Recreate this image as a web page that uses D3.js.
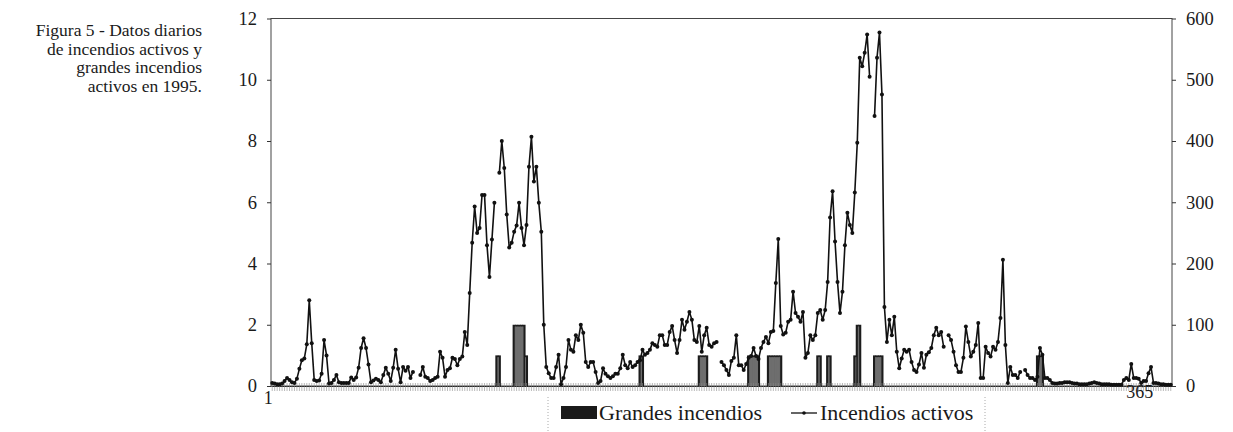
<!DOCTYPE html>
<html>
<head>
<meta charset="utf-8">
<script src="https://cdn.jsdelivr.net/npm/d3@7"></script>
<style>
  html, body { margin: 0; padding: 0; background: #fff; }
  svg { display: block; }
  text { font-family: "Liberation Serif", "Times New Roman", "DejaVu Serif", serif; fill: #1a1a1a; }
</style>
</head>
<body>
<svg id="chart" width="1233" height="432"></svg>
<script>
// ---- DATA ----
const titleLines = ["Figura 5 - Datos diarios", "de incendios activos y", "grandes incendios", "activos en 1995."];
const leftTicks = [0, 2, 4, 6, 8, 10, 12];
const rightTicks = [0, 100, 200, 300, 400, 500, 600];
const xTickDays = [1, 365];
const xTickLabels = ["1", "365"];
const seriesNames = ["Grandes incendios", "Incendios activos"];

// Incendios activos (right axis), day 1..365 (null = no data)
const incendiosActivos = [
  5,4,3,3,4,8,13,10,6,5,
  12,28,42,45,68,140,70,10,8,9,
  20,75,50,4,5,10,18,6,5,5,
  5,5,14,10,14,30,62,78,62,35,
  6,9,12,10,6,18,30,20,8,30,
  59,28,6,31,25,31,13,23,null,null,
  18,31,15,13,8,10,13,15,56,46,
  15,26,29,46,44,34,44,48,88,67,
  152,234,293,250,258,312,312,230,178,239,
  299,null,348,400,356,280,226,234,252,262,
  299,258,230,263,358,407,334,358,299,252,
  100,31,21,13,13,31,51,3,13,31,
  75,59,56,83,75,100,87,39,31,39,
  39,23,5,8,29,20,16,13,16,20,
  20,29,51,34,29,39,31,34,39,42,
  59,51,54,59,70,67,64,83,83,67,
  67,88,98,75,54,75,108,92,105,121,
  108,75,72,98,56,83,95,67,64,70,
  72,null,39,34,26,18,41,46,83,34,
  34,26,36,46,49,62,49,44,62,72,
  80,70,88,90,168,240,98,84,87,105,
  108,154,119,113,105,121,46,54,83,75,
  83,119,124,108,124,170,275,318,236,170,
  119,154,230,283,263,250,316,397,536,522,
  544,574,505,null,441,536,577,476,129,72,
  108,83,113,56,29,45,59,56,59,39,
  26,23,35,54,30,51,55,62,83,95,
  83,88,64,null,83,75,56,34,23,23,
  46,97,72,48,56,67,103,13,13,64,
  54,48,64,59,72,111,206,67,5,31,
  18,18,13,23,null,26,18,13,13,10,
  15,62,51,13,13,10,5,4,4,5,
  5,6,6,6,5,4,4,3,3,3,
  3,4,5,6,5,4,3,3,3,3,
  2,2,2,2,2,10,13,10,36,13,
  13,12,5,8,8,21,31,5,5,4,
  3,3,2,2,2
];

// Grandes incendios (left axis): day and value
const grandesDia =   [92,93, 99,100,101,102,103,104, 150,151, 174,175,176,177, 194,195,196,197,198, 202,203,204,205,206,207, 222,223, 226,227, 237,238,239, 245,246,247,248, 311,312,313];
const grandesValor = [1,1,   2,2,2,2,2,1,            1,1,     1,1,1,1,         1,1,1,1,1,           1,1,1,1,1,1,             1,1,     1,1,     1,2,2,       1,1,1,1,         1,1,1];

// ---- CHART ----
const FONT = "'Liberation Serif', 'Times New Roman', serif";
const days = d3.range(1, 366);
const svg = d3.select("#chart");
const plot = { left: 271, right: 1172, top: 18.5, bottom: 386 };

const x = d3.scaleBand().domain(days).range([plot.left, plot.right]).padding(0);
const bw = x.bandwidth();
const xc = d => x(d) + bw / 2;
const yL = d3.scaleLinear().domain([0, 12]).range([plot.bottom, plot.top]);
const yR = d3.scaleLinear().domain([0, 600]).range([plot.bottom, plot.top]);

// Title
const title = svg.append("text")
  .attr("text-anchor", "end")
  .attr("font-family", FONT)
  .attr("font-size", 17.5);
titleLines.forEach((t, i) => {
  title.append("tspan").attr("x", 202).attr("y", 36 + i * 18.5).text(t);
});

// Plot frame
svg.append("rect")
  .attr("x", plot.left).attr("y", plot.top)
  .attr("width", plot.right - plot.left).attr("height", plot.bottom - plot.top)
  .attr("fill", "none").attr("stroke", "#444").attr("stroke-width", 1);

// Bars (grandes incendios)
const grandes = grandesDia.map((d, i) => ({ day: d, v: grandesValor[i] }));
const byDay = new Map(grandes.map(g => [g.day, g.v]));
const inset = 1.8;
const leftIn = d => ((byDay.get(d.day - 1) || 0) < d.v) ? inset : -0.3;
const rightIn = d => ((byDay.get(d.day + 1) || 0) < d.v) ? inset : -0.3;
const barG = svg.append("g");
barG.selectAll("rect.out").data(grandes).join("rect")
  .attr("class", "out")
  .attr("x", d => x(d.day) - 0.3)
  .attr("width", bw + 0.6)
  .attr("y", d => yL(d.v))
  .attr("height", d => plot.bottom - yL(d.v))
  .attr("fill", "#1c1c1c");
barG.selectAll("rect.in").data(grandes).join("rect")
  .attr("class", "in")
  .attr("x", d => x(d.day) + leftIn(d))
  .attr("width", d => Math.max(0, bw - leftIn(d) - rightIn(d)))
  .attr("y", d => yL(d.v) + inset)
  .attr("height", d => Math.max(0, plot.bottom - yL(d.v) - inset))
  .attr("fill", "#6e6e6e");

// X axis dense ticks
const xAxis = d3.axisBottom(x).tickValues(days).tickSizeInner(5).tickSizeOuter(0).tickFormat("");
const xg = svg.append("g").attr("transform", `translate(0,${plot.bottom})`).call(xAxis);
xg.select(".domain").attr("stroke", "#222").attr("stroke-width", 1);
xg.selectAll(".tick line").attr("stroke", "#8a8a8a").attr("stroke-width", 0.6).attr("y1", -3);

// X labels
svg.append("g").selectAll("text").data(xTickDays).join("text")
  .attr("x", d => xc(d))
  .attr("dx", (d, i) => i === 0 ? -4 : -31)
  .attr("y", (d, i) => i === 0 ? 404 : 398)
  .attr("text-anchor", "middle")
  .attr("font-family", FONT)
  .attr("font-size", 18)
  .text((d, i) => xTickLabels[i]);

// Left axis
const gl = svg.append("g").attr("transform", `translate(${plot.left},0)`)
  .call(d3.axisLeft(yL).tickValues(leftTicks).tickSize(4).tickPadding(10).tickFormat(d3.format("d")));
gl.attr("font-family", FONT).attr("font-size", 18.5);
gl.select(".domain").remove();
gl.selectAll(".tick line").attr("stroke", "#333");
gl.selectAll(".tick text").attr("fill", "#1a1a1a");

// Right axis
const gr = svg.append("g").attr("transform", `translate(${plot.right},0)`)
  .call(d3.axisRight(yR).tickValues(rightTicks).tickSize(4).tickPadding(10).tickFormat(d3.format("d")));
gr.attr("font-family", FONT).attr("font-size", 18.5);
gr.select(".domain").remove();
gr.selectAll(".tick line").attr("stroke", "#333");
gr.selectAll(".tick text").attr("fill", "#1a1a1a");

// Line (incendios activos)
const pts = days.map((d, i) => ({ day: d, v: incendiosActivos[i] }));
const line = d3.line().defined(d => d.v != null).x(d => xc(d.day)).y(d => yR(d.v));
svg.append("path").datum(pts)
  .attr("d", line).attr("fill", "none").attr("stroke", "#111").attr("stroke-width", 1.6)
  .attr("stroke-linejoin", "round");
svg.append("g").selectAll("circle").data(pts.filter(d => d.v != null)).join("circle")
  .attr("cx", d => xc(d.day)).attr("cy", d => yR(d.v)).attr("r", 2).attr("fill", "#111");

// Legend
const lg = svg.append("g").attr("font-family", FONT);
[548, 985].forEach(xx => {
  lg.append("line").attr("x1", xx).attr("x2", xx).attr("y1", 397).attr("y2", 432)
    .attr("stroke", "#aaa").attr("stroke-dasharray", "1,2");
});
lg.append("rect").attr("x", 561).attr("y", 406).attr("width", 36).attr("height", 13).attr("fill", "#1a1a1a");
lg.append("text").attr("x", 599).attr("y", 420).attr("font-size", 22).text(seriesNames[0]);
lg.append("line").attr("x1", 791).attr("x2", 817).attr("y1", 413).attr("y2", 413).attr("stroke", "#111").attr("stroke-width", 1.3);
lg.append("circle").attr("cx", 804).attr("cy", 413).attr("r", 1.8).attr("fill", "#111");
lg.append("text").attr("x", 820).attr("y", 420).attr("font-size", 22).text(seriesNames[1]);
</script>
</body>
</html>
